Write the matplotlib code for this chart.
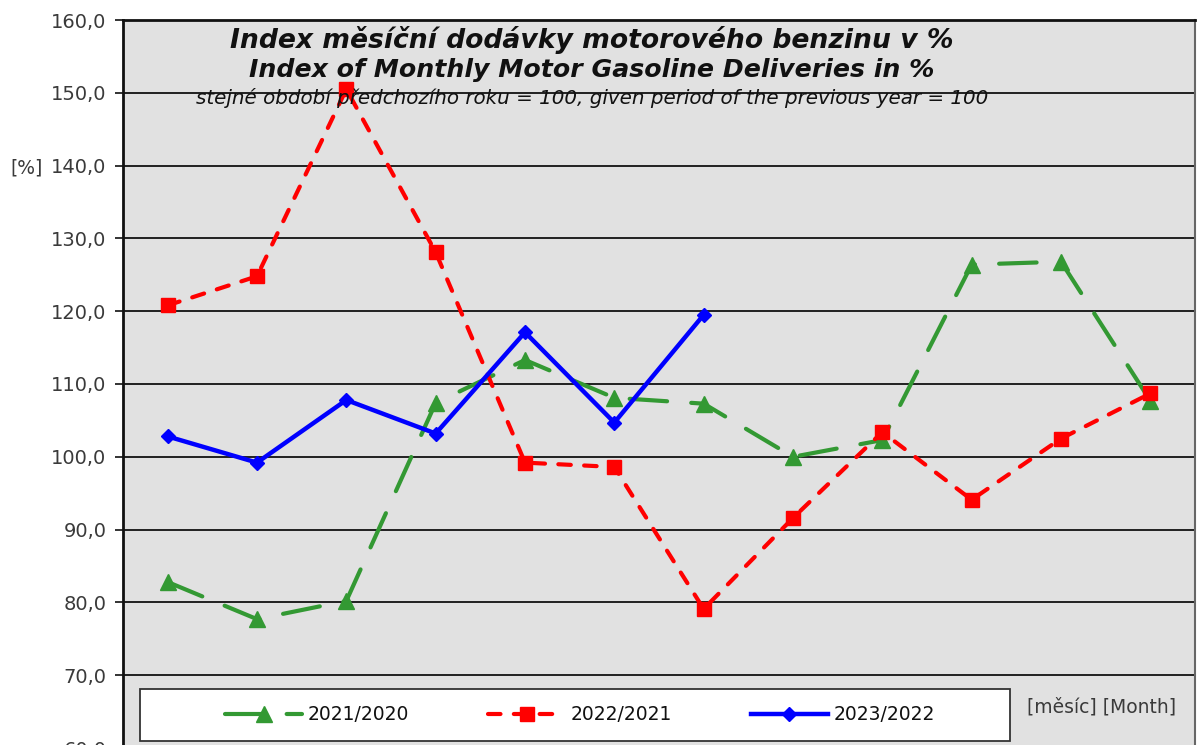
import matplotlib
matplotlib.use("Agg")
import matplotlib.pyplot as plt
from matplotlib.ticker import FuncFormatter
from matplotlib.patches import Rectangle

plt.rcParams['font.family'] = ['DejaVu Sans']

months = list(range(1, 13))
idx_2021_2020 = [82.8, 77.7, 80.2, 107.4, 113.3, 108.1, 107.3, 100.0, 102.3, 126.4, 126.8, 107.7]
idx_2022_2021 = [120.8, 124.8, 150.5, 128.1, 99.2, 98.6, 79.1, 91.6, 103.4, 94.1, 102.5, 108.7]
idx_2023_2022 = [102.8, 99.2, 107.8, 103.2, 117.1, 104.7, 119.5]
yticks = [60, 70, 80, 90, 100, 110, 120, 130, 140, 150, 160]

fig = plt.figure(figsize=(12, 7.45), dpi=100)
W, H = 1200, 745
left, right, top, bottom = 123, 1195, 20, 748
ax = fig.add_axes([left / W, 1 - bottom / H, (right - left) / W, (bottom - top) / H])
ax.set_facecolor('#e1e1e1')

ax.plot(months, idx_2021_2020, color='#339933', lw=3, dashes=(9, 5.8),
        dash_capstyle='round', marker='^', ms=11, label='2021/2020', zorder=3)
ax.plot(months, idx_2022_2021, color='#ff0000', lw=3, dashes=(3, 3.2),
        dash_capstyle='round', marker='s', ms=10, label='2022/2021', zorder=3)
ax.plot(months[:len(idx_2023_2022)], idx_2023_2022, color='#0000ff', lw=3.2,
        marker='D', ms=7, label='2023/2022', zorder=4)

ax.set_xlim(0.5, 12.5)
ax.set_ylim(60, 160)
ax.set_yticks(yticks)
ax.yaxis.set_major_formatter(FuncFormatter(lambda v, p: f"{v:.1f}".replace('.', ',')))
ax.set_xticks([])
ax.grid(axis='y', color='#111111', lw=1.3, zorder=1)
ax.set_axisbelow(True)
ax.tick_params(axis='y', direction='out', length=6, width=1.2, colors='#111111',
               labelsize=14, labelcolor='#3a3a3a', pad=6)
for s in ['left', 'top']:
    ax.spines[s].set_color('#111111')
    ax.spines[s].set_linewidth(2)
ax.spines['right'].set_color('#666666')
ax.spines['right'].set_linewidth(1.5)
ax.spines['bottom'].set_visible(False)

fig.text(592 / W, 1 - 40 / H, 'Index měsíční dodávky motorového benzinu v %',
         ha='center', va='center', fontsize=19.2, fontweight='bold', style='italic', color='#111111')
fig.text(592 / W, 1 - 70 / H, 'Index of Monthly Motor Gasoline Deliveries in %',
         ha='center', va='center', fontsize=18.2, fontweight='bold', style='italic', color='#111111')
fig.text(592 / W, 1 - 98 / H, 'stejné období předchozího roku = 100, given period of the previous year = 100',
         ha='center', va='center', fontsize=14.3, style='italic', color='#111111')
fig.text(27 / W, 1 - 168 / H, '[%]', ha='center', va='center', fontsize=13.5, color='#3a3a3a')
fig.text(1102 / W, 1 - 707 / H, '[měsíc] [Month]', ha='center', va='center', fontsize=13.5, color='#3a3a3a')

# legend frame
frame = Rectangle((140 / W, 1 - 741 / H), 870 / W, 52 / H, transform=fig.transFigure,
                  facecolor='white', edgecolor='#333333', lw=1.3, zorder=5, clip_on=False)
ax.add_patch(frame)
leg = ax.legend(loc='center', bbox_to_anchor=(580 / W, 1 - 715 / H),
                bbox_transform=fig.transFigure, ncol=3, frameon=False,
                fontsize=13.5, handlelength=4.1, handletextpad=0.3, columnspacing=4.2,
                borderpad=0)
leg.set_zorder(6)
for t in leg.get_texts():
    t.set_color('#111111')

fig.savefig('out.png', dpi=100)
